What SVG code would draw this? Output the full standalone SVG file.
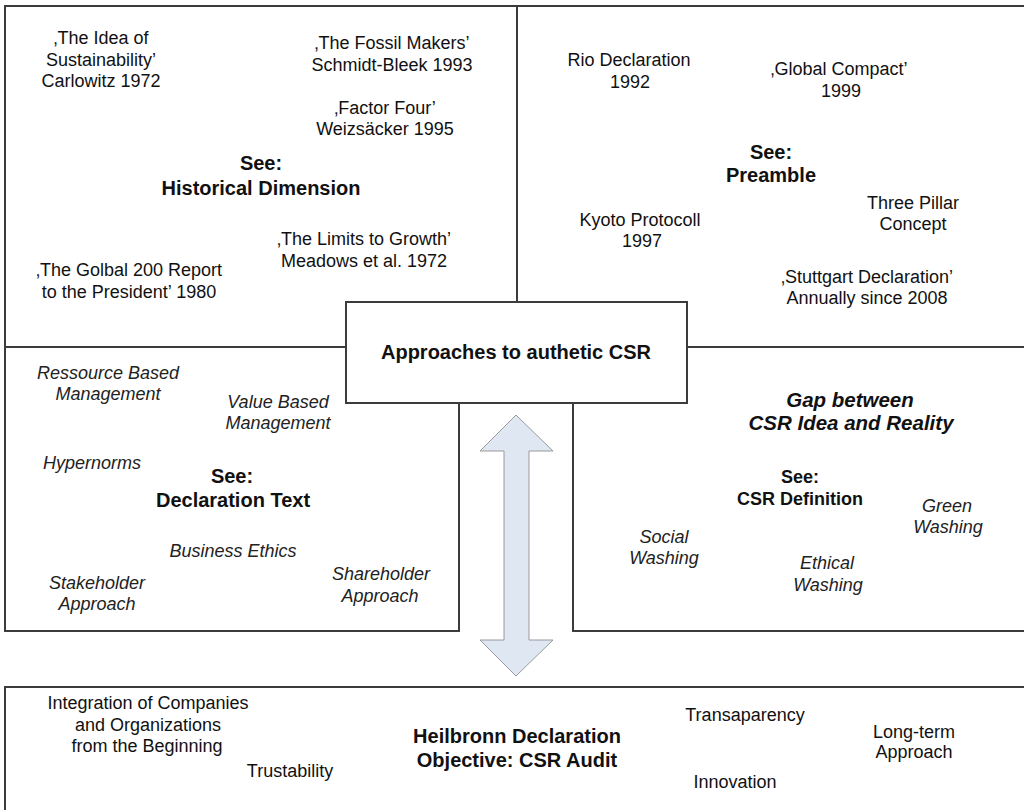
<svg xmlns="http://www.w3.org/2000/svg" width="1024" height="810" viewBox="0 0 1024 810">
<style>
.ln{fill:none;stroke:#3c3c3c;stroke-width:2}
text{font-family:"Liberation Sans",Arial,sans-serif;text-anchor:middle;fill:#111}
.r{font-size:18px}
.i{font-size:18px;font-style:italic;fill:#222}
.b{font-size:20px;font-weight:bold}
.bs{font-size:18px;font-weight:bold}
.bi{font-size:20.5px;font-weight:bold;font-style:italic}
.arrow{fill:#dfe7f3;stroke:#9a9a9a;stroke-width:1}
</style>
<rect width="1024" height="810" fill="#fff"/>
<g id="historical">
<path class="ln" d="M346,347 H5 V6 H517 V302"/>
<text class="r" x="101" y="44">‚The Idea of</text>
<text class="r" x="101" y="66">Sustainability’</text>
<text class="r" x="101" y="87">Carlowitz 1972</text>
<text class="r" x="392" y="49">‚The Fossil Makers’</text>
<text class="r" x="392" y="71">Schmidt-Bleek 1993</text>
<text class="r" x="385" y="114">‚Factor Four’</text>
<text class="r" x="385" y="135">Weizsäcker 1995</text>
<text class="b" x="261" y="170">See:</text>
<text class="b" x="261" y="195">Historical Dimension</text>
<text class="r" x="364" y="245">‚The Limits to Growth’</text>
<text class="r" x="364" y="267">Meadows et al. 1972</text>
<text class="r" x="129" y="276">‚The Golbal 200 Report</text>
<text class="r" x="129" y="298">to the President’ 1980</text>
</g>
<g id="preamble">
<path class="ln" d="M517,6 H1030 M687,347 H1030"/>
<text class="r" x="629" y="66">Rio Declaration</text>
<text class="r" x="630" y="88">1992</text>
<text class="r" x="839" y="75">‚Global Compact’</text>
<text class="r" x="841" y="97">1999</text>
<text class="b" x="771" y="159">See:</text>
<text class="b" x="771" y="182">Preamble</text>
<text class="r" x="913" y="209">Three Pillar</text>
<text class="r" x="913" y="230">Concept</text>
<text class="r" x="640" y="226">Kyoto Protocoll</text>
<text class="r" x="642" y="247">1997</text>
<text class="r" x="867" y="283">‚Stuttgart Declaration’</text>
<text class="r" x="867" y="304">Annually since 2008</text>
</g>
<g id="center">
<rect class="ln" x="346" y="302" width="341" height="101"/>
<text class="b" x="516" y="359">Approaches to authetic CSR</text>
</g>
<g id="declaration">
<path class="ln" d="M5,347 V631 H459 V403"/>
<text class="i" x="108" y="379">Ressource Based</text>
<text class="i" x="108" y="400">Management</text>
<text class="i" x="278" y="408">Value Based</text>
<text class="i" x="278" y="429">Management</text>
<text class="i" x="92" y="469">Hypernorms</text>
<text class="b" x="232" y="483">See:</text>
<text class="b" x="233" y="507">Declaration Text</text>
<text class="i" x="233" y="557">Business Ethics</text>
<text class="i" x="97" y="589">Stakeholder</text>
<text class="i" x="97" y="610">Approach</text>
<text class="i" x="381" y="580">Shareholder</text>
<text class="i" x="380" y="602">Approach</text>
</g>
<g id="gap">
<path class="ln" d="M573,403 V631 H1030"/>
<text class="bi" x="850" y="407">Gap between</text>
<text class="bi" x="851" y="430">CSR Idea and Reality</text>
<text class="bs" x="800" y="483">See:</text>
<text class="bs" x="800" y="505">CSR Definition</text>
<text class="i" x="947" y="512">Green</text>
<text class="i" x="948" y="533">Washing</text>
<text class="i" x="664" y="543">Social</text>
<text class="i" x="664" y="564">Washing</text>
<text class="i" x="827" y="569">Ethical</text>
<text class="i" x="828" y="591">Washing</text>
</g>
<g id="heilbronn">
<path class="ln" d="M1030,687 H5 V815"/>
<text class="r" x="148" y="709">Integration of Companies</text>
<text class="r" x="148" y="731">and Organizations</text>
<text class="r" x="147" y="752">from the Beginning</text>
<text class="r" x="290" y="777">Trustability</text>
<text class="b" x="517" y="743">Heilbronn Declaration</text>
<text class="b" x="517" y="767">Objective: CSR Audit</text>
<text class="r" x="745" y="721">Transaparency</text>
<text class="r" x="735" y="788">Innovation</text>
<text class="r" x="914" y="738">Long-term</text>
<text class="r" x="914" y="758">Approach</text>
</g>
<g id="connectors">
<polygon class="arrow" points="516,415 553,451 529,451 529,640 553,640 516,676 480,640 504,640 504,451 480,451"/>
</g>
</svg>
